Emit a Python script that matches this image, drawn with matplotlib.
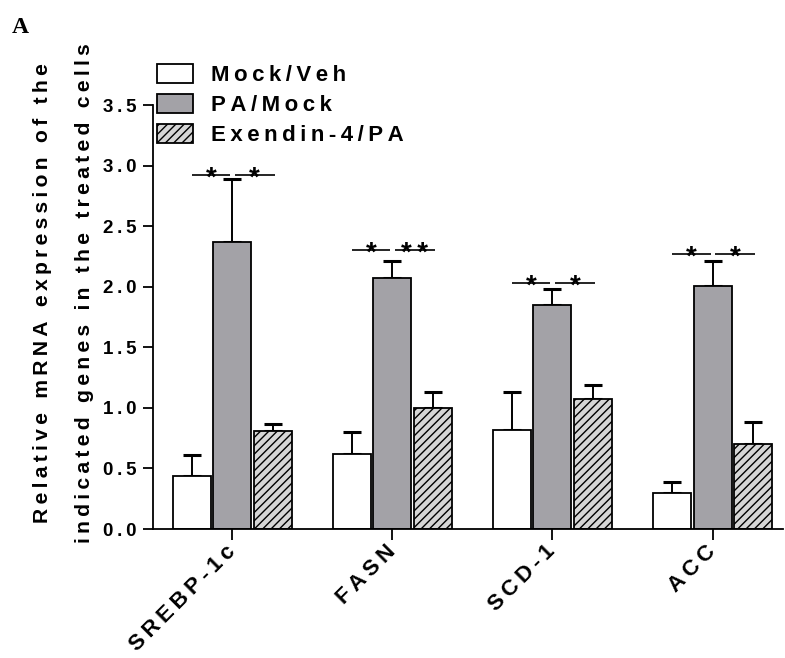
import numpy as np
import matplotlib
matplotlib.use("Agg")
import matplotlib.pyplot as plt

# gene names and treatment groups
genes = ["SREBP-1c", "FASN", "SCD-1", "ACC"]
groups = ["Mock/Veh", "PA/Mock", "Exendin-4/PA"]

mock_veh = [0.44, 0.62, 0.82, 0.30]
pa_mock = [2.37, 2.07, 1.85, 2.01]
exendin_pa = [0.81, 1.00, 1.07, 0.70]

mock_veh_err = [0.17, 0.18, 0.31, 0.09]
pa_mock_err = [0.52, 0.14, 0.13, 0.20]
exendin_pa_err = [0.06, 0.13, 0.12, 0.18]

# significance bars: height and labels (mock vs PA, PA vs exendin)
sig_heights = [2.92, 2.30, 2.03, 2.27]
sig_labels = [["*", "*"], ["*", "**"], ["*", "*"], ["*", "*"]]

yticks = [0.0, 0.5, 1.0, 1.5, 2.0, 2.5, 3.0, 3.5]
ylabel_lines = ["Relative mRNA expression of the",
                "indicated genes in the treated cells"]

GAP = "\u2009"


def spaced(s):
    """Mimic the wide letter spacing of the original figure."""
    return GAP.join(s)


plt.rcParams["font.family"] = ["Liberation Sans", "DejaVu Sans"]
plt.rcParams["font.weight"] = "bold"
plt.rcParams["hatch.linewidth"] = 1.0

fig = plt.figure(figsize=(7.85, 6.58), dpi=100)
ax = fig.add_axes([153 / 785, 1 - 529 / 658, (783 - 153) / 785, (529 - 105) / 658])

x = np.arange(len(genes))
off = 0.253
width = 0.2375

styles = [
    dict(color="white", hatch=None),
    dict(color="#a3a2a7", hatch=None),
    dict(color="#d6d6d6", hatch="////"),
]
values = [mock_veh, pa_mock, exendin_pa]
errors = [mock_veh_err, pa_mock_err, exendin_pa_err]

for i, (vals, errs, st, name) in enumerate(zip(values, errors, styles, groups)):
    xs = x + (i - 1) * off
    ax.bar(xs, vals, width=width, color=st["color"], hatch=st["hatch"],
           edgecolor="black", linewidth=1.3, zorder=2, label=spaced(name))
    ax.errorbar(xs, vals, yerr=[np.zeros(len(vals)), errs], fmt="none",
                ecolor="black", elinewidth=1.4, capsize=6.5, capthick=2.2,
                zorder=1)

# significance lines with stars
for i, (h, labs) in enumerate(zip(sig_heights, sig_labels)):
    segs = [(i - off, i - 0.012), (i + 0.018, i + off + 0.012)]
    for (x0, x1), lab in zip(segs, labs):
        ax.plot([x0, x1], [h, h], color="black", lw=1.2, zorder=3,
                solid_capstyle="butt")
        ax.annotate(spaced(lab), xy=((x0 + x1) / 2, h), xytext=(0, -7.5),
                    textcoords="offset points", ha="center", va="baseline",
                    fontsize=20, fontweight="bold", zorder=4)

ax.set_xlim(-0.494, 3.44)
ax.set_ylim(0, 3.5)

ax.spines["top"].set_visible(False)
ax.spines["right"].set_visible(False)
for s in ["left", "bottom"]:
    ax.spines[s].set_linewidth(1.3)

ax.set_yticks(yticks)
ax.set_yticklabels([spaced(f"{t:.1f}") for t in yticks], fontsize=13.5,
                   fontweight="bold")
ax.tick_params(axis="y", length=7, width=1.3, pad=5)

ax.set_xticks(x)
ax.set_xticklabels([spaced(g) for g in genes], rotation=45, ha="right",
                   va="center", rotation_mode="anchor", fontsize=16,
                   fontweight="bold")
ax.tick_params(axis="x", length=8, width=1.3, pad=6)

for line, xc in zip(ylabel_lines, [43, 85]):
    fig.text(xc / 785, 1 - 293 / 658, spaced(line), rotation=90,
             ha="center", va="center", fontsize=15.2, fontweight="bold")

ax.legend(loc="upper left", bbox_to_anchor=(157 / 785, 1 - 64 / 658),
          bbox_transform=fig.transFigure, frameon=False,
          borderpad=0, borderaxespad=0, handlelength=1.6, handleheight=0.95,
          handletextpad=0.85, labelspacing=0.35,
          prop={"weight": "bold", "size": 16})

fig.text(12 / 785, 1 - 33 / 658, "A", fontsize=17, fontweight="bold",
         family=["Liberation Serif", "DejaVu Serif"], ha="left", va="baseline")

fig.savefig("out.png", dpi=100)
